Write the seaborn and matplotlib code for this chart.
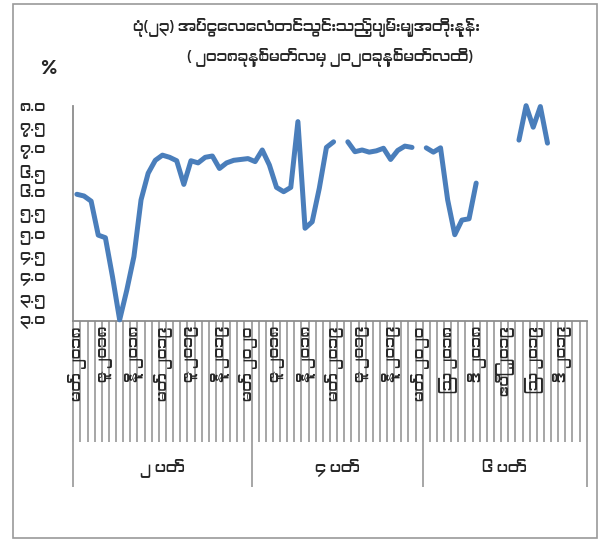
import numpy as np
import pandas as pd
import seaborn as sns
import matplotlib
matplotlib.use("Agg")
import matplotlib.pyplot as plt
from matplotlib import font_manager
from matplotlib.patches import Rectangle

# average deposit auction rate, monthly, by tenor (None = no auction)
two_week = [5.94, 5.90, 5.78, 4.99, 4.93, 4.02, 3.02, 3.71, 4.49, 5.81, 6.43, 6.73, 6.85,
            6.80, 6.72, 6.17, 6.72, 6.67, 6.80, 6.83, 6.54, 6.67, 6.73, 6.75, 6.77]
four_week = [6.70, 6.97, 6.62, 6.10, 6.00, 6.10, 7.63, 5.15, 5.30, 6.08, 7.03, 7.16,
             None, 7.16, 6.93, 6.97, 6.92, 6.95, 7.01, 6.75, 6.96, 7.06, 7.03, None]
six_week = [7.02, 6.92, 7.02, 5.81, 5.00, 5.34, 5.37, 6.20, None, None, None, None,
            None, 7.20, 8.00, 7.50, 7.98, 7.13, None, None, None, None, None]

# first month (year, month) of each tenor series
series_start = [(2018, 3), (2018, 4), (2018, 5)]
group_names = ["၂ ပတ်", "၄ ပတ်", "၆ ပတ်"]
month_names = ["ဇန်", "ဖေ", "မတ်", "ဧပြီ", "မေ", "ဇွန်", "ဇူ", "ဩ", "စက်", "အောက်", "နို", "ဒီ"]

title_1 = "ပုံ(၂၃) အပ်ငွေလေလံတင်သွင်းသည့်ပျမ်းမျှအတိုးနှုန်း"
title_2 = "( ၂၀၁၈ခုနှစ်မတ်လမှ ၂၀၂၀ခုနှစ်မတ်လထိ)"
y_unit = "%"

MM_DIGITS = str.maketrans("0123456789", "၀၁၂၃၄၅၆၇၈၉")


def mm(text):
    return str(text).translate(MM_DIGITS)


sns.set_style("white")
mm_font = None
for f in font_manager.fontManager.ttflist:
    if "Myanmar" in f.name or "Padauk" in f.name:
        mm_font = f.name
        break
plt.rcParams["font.family"] = ([mm_font] if mm_font else []) + ["DejaVu Sans"]

# build one long frame, the three tenors side by side
series = [two_week, four_week, six_week]
rates, labels = [], []
for values, (yr, mo) in zip(series, series_start):
    for k, v in enumerate(values):
        m = mo - 1 + k
        rates.append(np.nan if v is None else v)
        labels.append("{} {}".format(month_names[m % 12], mm(yr + m // 12)))
df = pd.DataFrame({"pos": np.arange(len(rates)), "rate": rates, "label": labels})
df["seg"] = df["rate"].isna().cumsum()
n = len(df)

fig = plt.figure(figsize=(5.99, 5.43), dpi=100)
ax = fig.add_axes([73.3 / 599, 1 - 320.7 / 543, (586.7 - 73.3) / 599, (320.7 - 105.7) / 543])

sns.lineplot(data=df.dropna(), x="pos", y="rate", units="seg", estimator=None,
             color="#4a7ebb", lw=3.6, solid_capstyle="round", solid_joinstyle="round",
             legend=False, ax=ax, clip_on=False, zorder=3)

ax.set_xlim(-0.5, n - 0.5)
ax.set_ylim(3, 8)
ax.set_xlabel("")
ax.set_ylabel("")
for s in ["top", "right"]:
    ax.spines[s].set_visible(False)
for s in ["left", "bottom"]:
    ax.spines[s].set_color("#8c8c8c")
    ax.spines[s].set_linewidth(1.3)

yt = np.arange(3, 8.01, 0.5)
ax.set_yticks(yt)
ax.set_yticklabels([mm("{:.1f}".format(v)) for v in yt], fontsize=11, ha="left")
ax.tick_params(axis="y", direction="out", length=4, width=1.2, color="#8c8c8c", pad=35)

xt = np.arange(0, n, 4)
ax.set_xticks(xt)
ax.set_xticklabels(df["label"].iloc[xt], rotation=90, fontsize=10.5, va="top")
ax.tick_params(axis="x", length=0, pad=4)

# category separator lines and group dividers under the axis
xform = ax.get_xaxis_transform()
ax.vlines(np.arange(-0.5, n, 1), -0.565, 0, transform=xform, clip_on=False,
          color="#a6a6a6", lw=1.4, zorder=0.3)
bounds = np.cumsum([0] + [len(s) for s in series]) - 0.5
ax.vlines(bounds, -0.773, 0, transform=xform, clip_on=False,
          color="#a6a6a6", lw=1.4, zorder=0.3)
for g, name in enumerate(group_names):
    ax.text((bounds[g] + bounds[g + 1]) / 2, -0.685, name, transform=xform,
            ha="center", va="center", fontsize=11)

fig.text(306 / 599, 1 - 27 / 543, title_1, ha="center", va="center", fontsize=10.5, fontweight="bold")
fig.text(330 / 599, 1 - 57 / 543, title_2, ha="center", va="center", fontsize=10.5, fontweight="bold")
fig.text(48 / 599, 1 - 68 / 543, y_unit, ha="center", va="center", fontsize=15, fontweight="bold")

fig.patches.append(Rectangle((13 / 599, 1 - 538 / 543), 584 / 599, 534 / 543,
                             transform=fig.transFigure, fill=False,
                             edgecolor="#9a9a9a", lw=1.2))

fig.savefig("out.png", dpi=100)
